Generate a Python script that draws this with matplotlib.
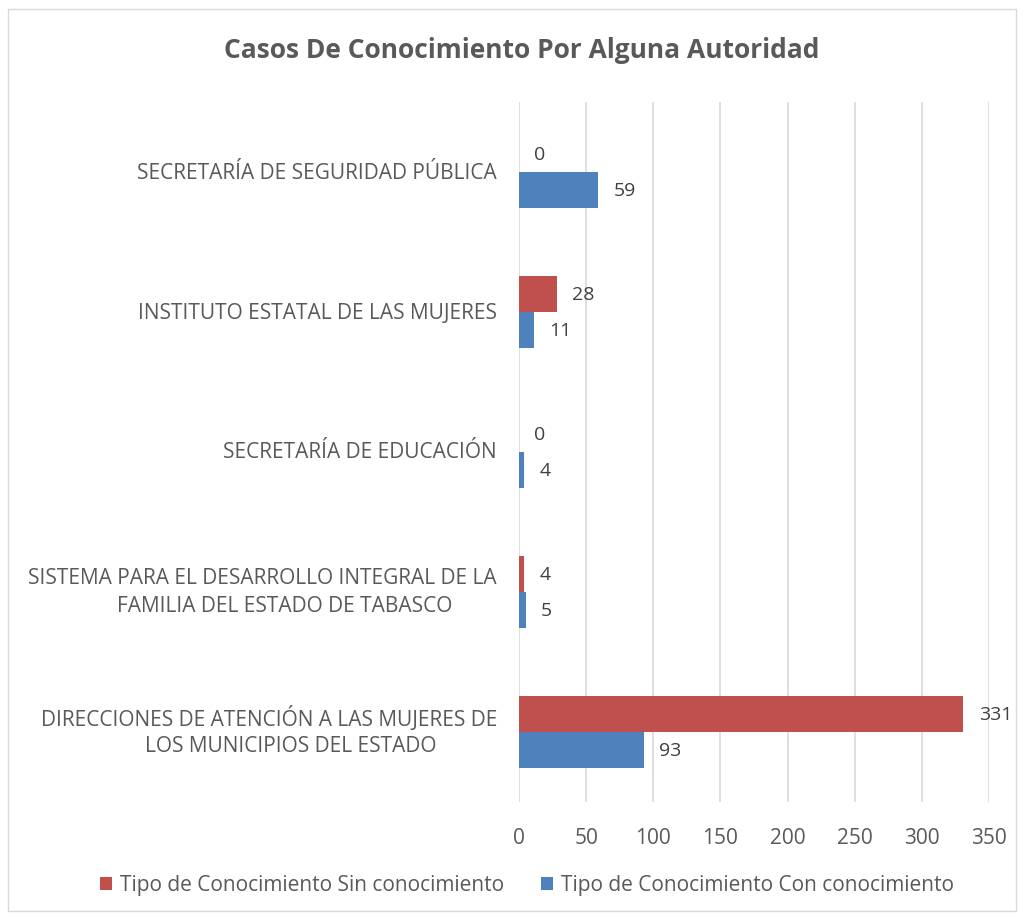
import matplotlib
matplotlib.use("Agg")
import matplotlib.pyplot as plt
from matplotlib.patches import Rectangle
from matplotlib.transforms import offset_copy
import numpy as np

categories = [
    "DIRECCIONES DE ATENCIÓN A LAS MUJERES DE\nLOS MUNICIPIOS DEL ESTADO",
    "SISTEMA PARA EL DESARROLLO INTEGRAL DE LA\nFAMILIA DEL ESTADO DE TABASCO",
    "SECRETARÍA DE EDUCACIÓN",
    "INSTITUTO ESTATAL DE LAS MUJERES",
    "SECRETARÍA DE SEGURIDAD PÚBLICA",
]
sin_conocimiento = [331, 4, 0, 28, 0]
con_conocimiento = [93, 5, 4, 11, 59]
series_names = ["Tipo de Conocimiento Sin conocimiento", "Tipo de Conocimiento Con conocimiento"]
xticks = [0, 50, 100, 150, 200, 250, 300, 350]
title = "Casos De Conocimiento Por Alguna Autoridad"

plt.rcParams['font.family'] = ['Open Sans', 'DejaVu Sans']
TXT = "#595959"
RED = "#C0504D"
BLUE = "#4F81BD"
FS = 15

fig = plt.figure(figsize=(10.24, 9.2), dpi=100)
fig.patches.append(Rectangle((8/1024, 1 - 912/920), 1008/1024, 902/920, transform=fig.transFigure,
                             fill=False, edgecolor="#D9D9D9", linewidth=1))
ax = fig.add_axes([519/1024, 1 - 803/920, (989-519)/1024, 700/920])

y = np.arange(len(categories))
h = 0.26
ax.barh(y + h/2, sin_conocimiento, height=h, color=RED, label=series_names[0], zorder=3)
ax.barh(y - h/2, con_conocimiento, height=h, color=BLUE, label=series_names[1], zorder=3)

for yi, v in zip(y, sin_conocimiento):
    ax.annotate(str(v), (v, yi + h/2), xytext=(11, 0), textcoords="offset points",
                va="center", ha="left", fontsize=14, color="#404040")
for yi, v in zip(y, con_conocimiento):
    ax.annotate(str(v), (v, yi - h/2), xytext=(11, 0), textcoords="offset points",
                va="center", ha="left", fontsize=14, color="#404040")

ax.set_xlim(0, 350)
ax.set_ylim(-0.5, len(categories) - 0.5)
ax.set_xticks(xticks)
ax.set_xticklabels([str(t) for t in xticks], fontsize=FS, color=TXT)
ax.set_yticks(y)
ax.set_yticklabels([])
ax.tick_params(axis="both", length=0)
ax.tick_params(axis="x", pad=18)
ax.grid(axis="x", color="#D9D9D9", linewidth=1.2, zorder=0)
for s in ax.spines.values():
    s.set_visible(False)

# category labels (Excel-style wrapped, centered lines)
renderer = fig.canvas.get_renderer()
right_tr = offset_copy(ax.get_yaxis_transform(), fig=fig, x=-22, y=0, units="dots")
line_gap = 14  # px half-distance between two lines
for yi, lab in zip(y, categories):
    lines = lab.split("\n")
    if len(lines) == 1:
        ax.text(0, yi, lines[0], transform=right_tr, ha="right", va="center", fontsize=FS, color=TXT)
    else:
        t1 = ax.text(0, yi, lines[0], transform=offset_copy(right_tr, fig=fig, y=line_gap, units="dots"),
                     ha="right", va="center", fontsize=FS, color=TXT)
        w1 = t1.get_window_extent(renderer).width
        tr2 = offset_copy(right_tr, fig=fig, x=-w1/2 + 22, y=-line_gap, units="dots")
        ax.text(0, yi, lines[1], transform=tr2, ha="center", va="center", fontsize=FS, color=TXT)

fig.text(522/1024, 1 - 51/920, title, ha="center", va="center", fontsize=19, fontweight="bold", color=TXT)

handles, labels = ax.get_legend_handles_labels()
fig.legend(handles, labels, loc="center", bbox_to_anchor=(527/1024, 1 - 886/920), ncol=2,
           frameon=False, fontsize=FS, labelcolor=TXT, handlelength=0.58, handleheight=0.58,
           handletextpad=0.35, columnspacing=1.8)

fig.savefig("out.png", dpi=100)
